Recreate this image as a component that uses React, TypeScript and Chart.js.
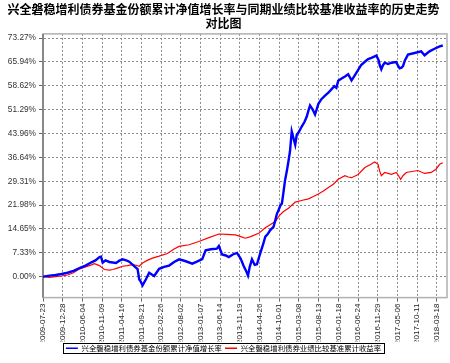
import React, { useEffect, useRef } from 'react';
import { Chart, registerables } from 'chart.js';

Chart.register(...registerables);

const titleLines = [
  '兴全磐稳增利债券基金份额累计净值增长率与同期业绩比较基准收益率的历史走势',
  '对比图',
];
const seriesNames = [
  '兴全磐稳增利债券基金份额累计净值增长率',
  '兴全磐稳增利债券业绩比较基准累计收益率',
];
const startDate = '2009-07-23';
const endDate = '2018-06-08';
const yMin = -6.44;
const yMax = 74.57;

const xTickLabels = [
  '2009-07-23', '2009-12-28', '2010-06-04', '2010-11-09', '2011-04-16', '2011-09-21',
  '2012-02-26', '2012-08-02', '2013-01-07', '2013-06-14', '2013-11-19', '2014-04-26',
  '2014-10-01', '2015-03-08', '2015-08-13', '2016-01-18', '2016-06-24', '2016-11-29',
  '2017-05-06', '2017-10-11', '2018-03-18',
];
const yTickValues = [0, 7.33, 14.65, 21.98, 29.31, 36.64, 43.96, 51.29, 58.62, 65.94, 73.27];

const fundDates = [
  '2009-07-23', '2009-09-14', '2009-11-01', '2009-12-19', '2010-02-05', '2010-03-25',
  '2010-05-12', '2010-06-29', '2010-08-16', '2010-09-17', '2010-10-19', '2010-10-31',
  '2010-11-14', '2010-12-06', '2011-01-07', '2011-03-01', '2011-03-28', '2011-04-23',
  '2011-05-22', '2011-06-15', '2011-07-25', '2011-08-21', '2011-09-03', '2011-09-15',
  '2011-09-30', '2011-10-27', '2011-11-22', '2011-12-16', '2012-01-01', '2012-02-10',
  '2012-03-21', '2012-04-30', '2012-06-09', '2012-07-19', '2012-09-05', '2012-11-02',
  '2012-12-09', '2013-01-21', '2013-02-17', '2013-03-31', '2013-05-18', '2013-06-03',
  '2013-06-29', '2013-07-29', '2013-08-22', '2013-09-23', '2013-10-27', '2013-11-26',
  '2013-12-20', '2014-01-05', '2014-01-23', '2014-02-06', '2014-02-24', '2014-03-18',
  '2014-04-05', '2014-05-02', '2014-05-21', '2014-06-11', '2014-06-29', '2014-07-21',
  '2014-08-16', '2014-08-30', '2014-09-12', '2014-09-25', '2014-10-11', '2014-10-22',
  '2014-11-04', '2014-11-16', '2014-12-01', '2014-12-14', '2014-12-26', '2015-01-09',
  '2015-01-23', '2015-02-06', '2015-02-18', '2015-03-08', '2015-03-30', '2015-04-21',
  '2015-05-09', '2015-05-23', '2015-06-05', '2015-06-24', '2015-07-15', '2015-08-11',
  '2015-09-04', '2015-10-03', '2015-10-30', '2015-11-25', '2015-12-17', '2016-01-02',
  '2016-01-17', '2016-02-10', '2016-03-11', '2016-04-06', '2016-05-03', '2016-05-24',
  '2016-06-25', '2016-07-19', '2016-08-18', '2016-09-13', '2016-10-10', '2016-11-18',
  '2016-12-06', '2016-12-15', '2016-12-28', '2017-01-11', '2017-01-24', '2017-02-20',
  '2017-03-19', '2017-04-27', '2017-05-11', '2017-05-24', '2017-06-08', '2017-06-20',
  '2017-07-06', '2017-07-30', '2017-09-21', '2017-11-13', '2017-12-10', '2018-01-19',
  '2018-02-28', '2018-04-10', '2018-05-05',
];
const fundValues = [
  0.0, 0.3, 0.5, 0.8, 1.2, 1.8,
  2.6, 3.4, 4.4, 5.0, 6.0, 6.1,
  4.3, 5.0, 4.5, 4.2, 4.9, 5.3,
  5.0, 4.6, 3.2, 2.3, -0.8, -1.5,
  -2.7, -0.8, 1.2, 0.6, 0.2, 2.4,
  3.0, 3.4, 4.5, 5.3, 4.8, 4.0,
  4.6, 5.4, 8.1, 8.4, 8.6, 9.4,
  6.8, 6.5, 6.0, 6.8, 7.3, 5.5,
  3.2, 2.0, 0.3, 3.0, 5.3, 3.6,
  3.8, 7.3, 9.5, 12.3, 13.0, 14.3,
  15.3, 17.3, 19.3, 20.4, 22.0, 22.4,
  26.0, 29.5, 32.5, 35.5, 38.5, 44.6,
  42.5, 40.5, 43.5, 44.5, 46.1, 47.5,
  49.1, 51.0, 52.6, 51.5, 49.8, 53.1,
  54.5, 55.6, 56.5, 57.6, 58.5, 58.0,
  60.2, 60.8, 61.5, 62.2, 60.3, 61.5,
  63.5, 65.0, 66.0, 66.8, 67.2, 67.9,
  66.5, 65.0, 63.7, 65.0, 65.7, 65.3,
  65.7, 65.9, 64.8, 64.0, 64.2, 64.7,
  66.5, 68.2, 68.7, 69.2, 68.0, 69.2,
  70.0, 70.7, 71.0,
];

const benchDates = [
  '2009-07-23', '2009-09-14', '2009-11-01', '2009-12-19', '2010-02-05', '2010-03-25',
  '2010-05-12', '2010-06-29', '2010-08-16', '2010-09-09', '2010-10-19', '2010-11-28',
  '2011-01-07', '2011-02-03', '2011-03-12', '2011-04-23', '2011-05-30', '2011-07-12',
  '2011-08-10', '2011-09-03', '2011-09-30', '2011-11-06', '2011-12-18', '2012-02-10',
  '2012-04-16', '2012-06-09', '2012-07-19', '2012-10-07', '2012-12-25', '2013-03-15',
  '2013-06-03', '2013-08-06', '2013-10-14', '2013-11-26', '2014-01-02', '2014-02-14',
  '2014-04-19', '2014-06-11', '2014-07-23', '2014-09-01', '2014-10-03', '2014-11-04',
  '2014-12-14', '2015-02-06', '2015-03-28', '2015-05-23', '2015-07-02', '2015-08-11',
  '2015-09-20', '2015-10-30', '2015-12-09', '2016-01-17', '2016-03-11', '2016-04-06',
  '2016-05-03', '2016-06-25', '2016-08-18', '2016-09-29', '2016-11-05', '2016-12-02',
  '2016-12-14', '2016-12-28', '2017-01-24', '2017-03-19', '2017-04-27', '2017-05-15',
  '2017-06-01', '2017-06-20', '2017-07-16', '2017-08-30', '2017-10-17', '2017-12-10',
  '2018-02-01', '2018-03-12', '2018-04-10', '2018-05-05',
];
const benchValues = [
  0.0, -0.2, 0.0, 0.2, 0.5, 1.2,
  2.4, 3.0, 3.6, 4.0, 3.4, 2.2,
  2.0, 2.2, 2.6, 3.2, 3.4, 3.7,
  3.5, 3.2, 4.2, 5.0, 5.7, 6.3,
  7.1, 8.5, 9.3, 9.8, 10.8, 12.0,
  13.1, 13.0, 12.8, 12.3, 11.8, 12.3,
  13.3, 15.0, 16.0, 17.0, 18.8, 20.0,
  21.0, 22.9, 23.4, 23.9, 24.6, 25.4,
  26.3, 27.4, 28.4, 29.9, 31.0, 30.6,
  30.4, 31.4, 33.5, 34.4, 35.2, 34.5,
  32.5, 31.0, 32.0, 31.4, 32.0, 31.0,
  29.9, 31.0, 32.0, 32.3, 32.6, 31.7,
  32.0, 33.0, 34.5, 35.0,
];

const DAY = 86400000;
const toDay = (s: string) => {
  const [y, m, d] = s.split('-').map(Number);
  const [y0, m0, d0] = startDate.split('-').map(Number);
  return Math.round((Date.UTC(y, m - 1, d) - Date.UTC(y0, m0 - 1, d0)) / DAY);
};

const framePlugin = {
  id: 'frame',
  beforeDatasetsDraw(chart: any) {
    const { ctx, chartArea: a } = chart;
    ctx.save();
    ctx.setLineDash([]);
    ctx.strokeStyle = '#b0b0b0';
    ctx.lineWidth = 1.5;
    ctx.strokeRect(a.left, a.top, a.right - a.left, a.bottom - a.top);
    ctx.strokeStyle = '#777777';
    ctx.lineWidth = 1.5;
    ctx.beginPath();
    ctx.moveTo(a.left, a.top);
    ctx.lineTo(a.left, a.bottom);
    ctx.stroke();
    ctx.restore();
  },
  afterDraw(chart: any) {
    const lg = chart.legend;
    if (!lg || !lg.legendHitBoxes || !lg.legendHitBoxes.length) return;
    const boxes = lg.legendHitBoxes;
    let l = Infinity, r = -Infinity, t = Infinity, b = -Infinity;
    boxes.forEach((h: any) => {
      l = Math.min(l, h.left);
      r = Math.max(r, h.left + h.width);
      t = Math.min(t, h.top);
      b = Math.max(b, h.top + h.height);
    });
    const { ctx } = chart;
    ctx.save();
    ctx.setLineDash([]);
    ctx.strokeStyle = '#000';
    ctx.lineWidth = 1;
    ctx.strokeRect(Math.round(l - 3) + 0.5, Math.round(t - 2) + 0.5, Math.round(r - l + 6), Math.round(b - t + 3));
    ctx.restore();
  },
};

const gridOpts = {
  color: '#8c8c8c',
  lineWidth: 1,
  drawTicks: true,
  tickLength: 4,
  tickColor: '#666',
  tickBorderDash: [],
};

export default function App() {
  const ref = useRef<HTMLCanvasElement | null>(null);
  useEffect(() => {
    if (!ref.current) return;
    const tickDays = xTickLabels.map(toDay);
    const chart = new Chart(ref.current, {
      type: 'line',
      data: {
        datasets: [
          {
            label: seriesNames[0],
            data: fundDates.map((d, i) => ({ x: toDay(d), y: fundValues[i] })),
            borderColor: '#0000ff',
            borderWidth: 2.4,
            pointRadius: 0,
            tension: 0,
            fill: false,
          },
          {
            label: seriesNames[1],
            data: benchDates.map((d, i) => ({ x: toDay(d), y: benchValues[i] })),
            borderColor: '#ff0000',
            borderWidth: 1.2,
            pointRadius: 0,
            tension: 0,
            fill: false,
          },
        ],
      },
      options: {
        animation: false,
        responsive: false,
        devicePixelRatio: 1,
        layout: { padding: { left: 0, right: 3, top: 0, bottom: 1 } },
        scales: {
          x: {
            type: 'linear',
            min: 0,
            max: toDay(endDate),
            afterBuildTicks: (scale: any) => {
              scale.ticks = tickDays.map((v) => ({ value: v }));
            },
            afterFit: (scale: any) => {
              scale.height = 44;
            },
            ticks: {
              autoSkip: false,
              minRotation: 90,
              maxRotation: 90,
              padding: 2,
              color: '#222',
              font: { family: 'Liberation Sans', size: 8 },
              callback: (_v: any, i: number) => xTickLabels[i],
            },
            grid: gridOpts,
            border: { display: true, color: 'rgba(0,0,0,0)', dash: [2, 2] },
          },
          y: {
            type: 'linear',
            min: yMin,
            max: yMax,
            afterBuildTicks: (scale: any) => {
              scale.ticks = yTickValues.map((v) => ({ value: v }));
            },
            afterFit: (scale: any) => {
              scale.width = 43;
            },
            ticks: {
              padding: 3,
              color: '#333',
              font: { family: 'Liberation Sans', size: 8.3 },
              callback: (_v: any, i: number) => yTickValues[i].toFixed(2) + '%',
            },
            grid: gridOpts,
            border: { display: true, color: 'rgba(0,0,0,0)', dash: [2, 2] },
          },
        },
        plugins: {
          title: {
            display: true,
            text: titleLines,
            color: '#000',
            font: { family: 'Noto Sans CJK SC', size: 12, weight: 'bold', lineHeight: 1.12 },
            padding: { top: 3, bottom: 4 },
          },
          legend: {
            display: true,
            position: 'bottom',
            labels: {
              color: '#000',
              font: { family: 'Noto Sans CJK SC', size: 7.4 },
              usePointStyle: true,
              pointStyle: 'line',
              pointStyleWidth: 12,
              boxHeight: 8,
              padding: 3,
              generateLabels: (chart: any) =>
                chart.data.datasets.map((ds: any, i: number) => ({
                  text: ds.label,
                  strokeStyle: ds.borderColor,
                  fillStyle: ds.borderColor,
                  lineWidth: 1.5,
                  pointStyle: 'line',
                  hidden: false,
                  datasetIndex: i,
                  fontColor: '#000',
                })),
            },
          },
          tooltip: { enabled: false },
        },
      },
      plugins: [framePlugin],
    } as any);
    return () => chart.destroy();
  }, []);
  return (
    <div style={{ position: 'fixed', left: 0, top: 0, width: 450, height: 363, background: '#fff' }}>
      <canvas ref={ref} width={450} height={363} style={{ display: 'block' }} />
    </div>
  );
}
